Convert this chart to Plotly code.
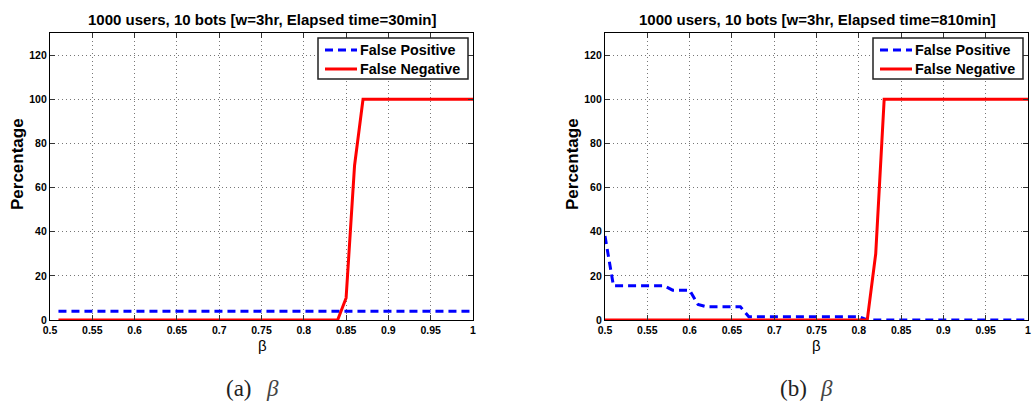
import plotly.graph_objects as go

# (a) elapsed time = 30 min
fp_a_beta = [0.51, 1.00]
fp_a = [4, 4]
fn_a_beta = [0.51, 0.84, 0.85, 0.86, 0.87, 1.00]
fn_a = [0, 0, 10, 70, 100, 100]

# (b) elapsed time = 810 min
fp_b_beta = [0.50, 0.51, 0.57, 0.58, 0.60, 0.61, 0.62, 0.66, 0.67, 0.80, 0.81, 1.00]
fp_b = [38, 15.5, 15.5, 13.5, 13.5, 7, 6, 6, 1.5, 1.5, 0, 0]
fn_b_beta = [0.50, 0.81, 0.82, 0.83, 1.00]
fn_b = [0, 0, 30, 100, 100]

series_names = ["False Positive", "False Negative"]
titles = ["1000 users, 10 bots [w=3hr, Elapsed time=30min]",
          "1000 users, 10 bots [w=3hr, Elapsed time=810min]"]
captions = ["(a)", "(b)"]
y_ticks = [0, 20, 40, 60, 80, 100, 120]

W, H = 1032, 403
SANS = "Liberation Sans"
SERIF = "Liberation Serif"

FP_COLOR, FN_COLOR = "#0000ff", "#ff0000"
FP_DASH = "8px,5px"

# pixel geometry of the two panels
px_left = [(50, 473), (605, 1028)]
px_top, px_bottom = 33, 320


def fx(px):
    return px / W


def fy(py):
    return 1 - py / H


fig = go.Figure()

panels = [(fp_a_beta, fp_a, fn_a_beta, fn_a), (fp_b_beta, fp_b, fn_b_beta, fn_b)]
for i, (xb, yb, xr, yr) in enumerate(panels):
    ax = "" if i == 0 else "2"
    fig.add_trace(go.Scatter(x=xb, y=yb, mode="lines", name=series_names[0],
                             line=dict(color=FP_COLOR, width=3, dash=FP_DASH),
                             xaxis="x" + ax, yaxis="y" + ax, showlegend=False))
    fig.add_trace(go.Scatter(x=xr, y=yr, mode="lines", name=series_names[1],
                             line=dict(color=FN_COLOR, width=3),
                             xaxis="x" + ax, yaxis="y" + ax, showlegend=False))

axis_common = dict(
    showline=True, linecolor="black", linewidth=1.3, mirror="ticks",
    ticks="inside", ticklen=5, tickcolor="#333", tickwidth=1,
    showgrid=True, gridcolor="#777777", griddash="1px,3px", gridwidth=1,
    zeroline=False, automargin=False,
    tickfont=dict(family=SANS, size=10.5, color="black", weight="bold"),
)

layout = dict(
    width=W, height=H,
    margin=dict(l=0, r=0, t=0, b=0),
    paper_bgcolor="white", plot_bgcolor="white",
    showlegend=False,
)

for i, (l, r) in enumerate(px_left):
    sfx = "" if i == 0 else "2"
    layout["xaxis" + sfx] = dict(axis_common, domain=[fx(l), fx(r)], range=[0.5, 1.0],
                                 dtick=0.05, tick0=0.5, anchor="y" + sfx)
    layout["yaxis" + sfx] = dict(axis_common, domain=[fy(px_bottom), fy(px_top)],
                                 range=[0, 130], tickvals=y_ticks, anchor="x" + sfx)

fig.update_layout(**layout)

# legend boxes (paper coordinates), one per panel
shapes = []
annotations = []
legend_left = [318, 873]
for i in range(2):
    lx = legend_left[i]
    shapes.append(dict(type="rect", xref="paper", yref="paper",
                       x0=fx(lx), x1=fx(lx + 150), y0=fy(79), y1=fy(38),
                       fillcolor="white", line=dict(color="#222", width=1.5), layer="above"))
    for j, (color, dash, yc) in enumerate([(FP_COLOR, FP_DASH, 50), (FN_COLOR, "solid", 69)]):
        shapes.append(dict(type="line", xref="paper", yref="paper",
                           x0=fx(lx + 7), x1=fx(lx + 39), y0=fy(yc), y1=fy(yc),
                           line=dict(color=color, width=3, dash=dash), layer="above"))
        annotations.append(dict(text=series_names[j], x=fx(lx + 40), y=fy(yc),
                                xref="paper", yref="paper", showarrow=False,
                                xanchor="left", yanchor="middle",
                                font=dict(family=SANS, size=14.3, color="black", weight="bold")))

title_cx = [262, 817]
xlabel_cx = [262, 816]
ylabel_x = [17, 572]
caption_cx = [239, 793]
beta_cx = [272, 826]
for i in range(2):
    annotations.append(dict(text=titles[i], x=fx(title_cx[i]), y=fy(19),
                            xref="paper", yref="paper", showarrow=False,
                            xanchor="center", yanchor="middle",
                            font=dict(family=SANS, size=15, color="black", weight="bold")))
    annotations.append(dict(text="β", x=fx(xlabel_cx[i]), y=fy(345),
                            xref="paper", yref="paper", showarrow=False,
                            xanchor="center", yanchor="middle",
                            font=dict(family=SANS, size=15, color="black")))
    annotations.append(dict(text="Percentage", x=fx(ylabel_x[i]), y=fy(164),
                            xref="paper", yref="paper", showarrow=False, textangle=-90,
                            xanchor="center", yanchor="middle",
                            font=dict(family=SANS, size=17, color="black", weight="bold")))
    annotations.append(dict(text=captions[i], x=fx(caption_cx[i]), y=fy(388),
                            xref="paper", yref="paper", showarrow=False,
                            xanchor="center", yanchor="middle",
                            font=dict(family=SERIF, size=23, color="#222")))
    annotations.append(dict(text="<i>β</i>", x=fx(beta_cx[i]), y=fy(388),
                            xref="paper", yref="paper", showarrow=False,
                            xanchor="center", yanchor="middle",
                            font=dict(family=SERIF, size=23, color="#444")))

fig.update_layout(shapes=shapes, annotations=annotations)

fig.write_html("out.html")
